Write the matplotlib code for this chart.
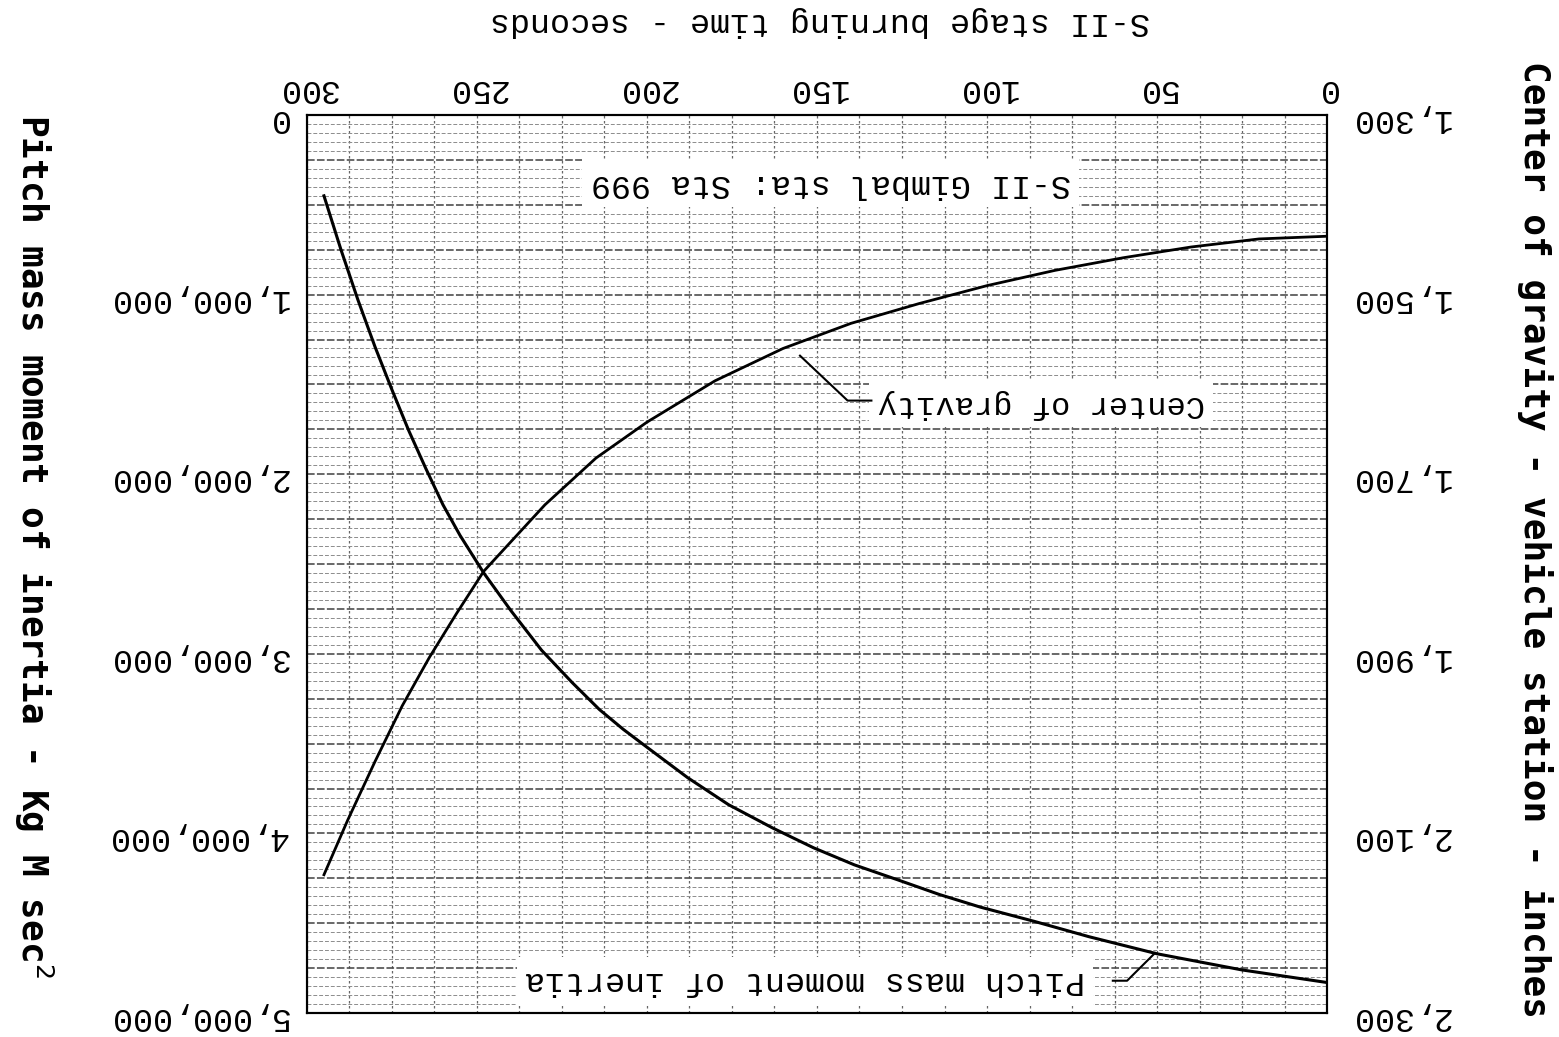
import numpy as np
import matplotlib
matplotlib.use("Agg")
import matplotlib.pyplot as plt

time_cg = [0, 20, 40, 60, 80, 100, 120, 140, 160, 180, 200, 215, 230, 248,
           256, 264, 272, 280, 288, 295]
cg_station = [1435, 1438, 1447, 1459, 1473, 1490, 1510, 1532, 1560, 1596, 1642, 1682, 1734, 1808,
              1855, 1904, 1958, 2020, 2085, 2146]

time_inertia = [0, 25, 50, 70, 86, 102, 114, 126, 139, 151, 163, 176, 188, 200, 207, 214,
                222, 231, 240, 248, 255, 260, 265, 270, 275, 280, 285, 290, 295]
pitch_inertia = [4.83e6, 4.76e6, 4.67e6, 4.575e6, 4.49e6, 4.41e6, 4.34e6, 4.26e6, 4.175e6,
                 4.08e6, 3.97e6, 3.84e6, 3.69e6, 3.52e6, 3.42e6, 3.31e6, 3.16e6, 2.98e6,
                 2.76e6, 2.55e6, 2.34e6, 2.17e6, 1.97e6, 1.76e6, 1.53e6, 1.29e6, 1.03e6,
                 0.75e6, 0.45e6]

time_ticks = [0, 50, 100, 150, 200, 250, 300]
inertia_ticks = [0, 1e6, 2e6, 3e6, 4e6, 5e6]
inertia_labels = ["0", "1,000,000", "2,000,000", "3,000,000", "4,000,000", "5,000,000"]
cg_ticks = [1300, 1500, 1700, 1900, 2100, 2300]
cg_labels = ["1,300", "1,500", "1,700", "1,900", "2,100", "2,300"]

# leader lines (time, inertia)
cg_leader_t = [155, 141, 134]
cg_leader_i = [1.34e6, 1.59e6, 1.59e6]
pitch_leader_t = [50.6, 58.8, 63]
pitch_leader_i = [4.666e6, 4.82e6, 4.82e6]

mono = "Liberation Mono"

fig = plt.figure(figsize=(15.59, 10.37), dpi=100)
ax = fig.add_axes([0.1969, 0.0231, 0.6543, 0.866])
ax.set_xlim(300, 0)
ax.set_ylim(5e6, 0)

# graph-paper grid
for t in np.arange(0, 300.1, 12.5):
    ax.axvline(t, color="0.4", lw=0.9, ls=(0, (2, 2)), zorder=1)
for v in np.arange(0, 5e6 + 1, 0.05e6):
    if abs(v / 0.25e6 - round(v / 0.25e6)) < 1e-6:
        ax.axhline(v, color="0.25", lw=1.1, ls=(0, (5, 1.5)), zorder=1)
    else:
        ax.axhline(v, color="0.55", lw=0.7, ls=(0, (4, 2)), zorder=1)

ax.plot(time_inertia, pitch_inertia, color="black", lw=2.2, zorder=4)

ax.xaxis.tick_top()
ax.set_xticks(time_ticks)
ax.set_xticklabels([str(t) for t in time_ticks], rotation=180, fontsize=24, family=mono)
ax.set_yticks(inertia_ticks)
ax.set_yticklabels(inertia_labels, rotation=180, fontsize=24, family=mono)
ax.tick_params(axis="both", length=0)
ax.tick_params(axis="x", pad=8)
ax.tick_params(axis="y", pad=14)

ax.xaxis.set_label_position("top")
ax.set_xlabel("S-II stage burning time - seconds", rotation=180, fontsize=24,
              family=mono, va="center", ha="center")
ax.xaxis.set_label_coords(0.503, 1.1036)
ax.set_ylabel("Pitch mass moment of inertia - Kg M sec$^2$", rotation=270, fontsize=26,
              family="DejaVu Sans Mono", fontweight="bold", va="center", ha="center")
ax.yaxis.set_label_coords(-0.268, 0.52)

ax2 = ax.twinx()
ax2.set_ylim(2300, 1300)
ax2.plot(time_cg, cg_station, color="black", lw=2.0, zorder=4)
ax2.set_yticks(cg_ticks)
ax2.set_yticklabels(cg_labels, rotation=180, fontsize=24, family=mono)
ax2.tick_params(axis="y", length=0, pad=16)
ax2.set_ylabel("Center of gravity - vehicle station - inches", rotation=270, fontsize=26,
               family="DejaVu Sans Mono", fontweight="bold", va="center", ha="center")
ax2.yaxis.set_label_coords(1.204, 0.527)

for a in (ax, ax2):
    for s in a.spines.values():
        s.set_linewidth(1.5)

box = dict(facecolor="white", edgecolor="none", pad=6)
ax.text(146, 0.38e6, "S-II Gimbal sta: Sta 999", rotation=180, fontsize=24, family=mono,
        ha="center", va="center", bbox=box, zorder=3)
ax.text(84, 1.61e6, "Center of gravity", rotation=180, fontsize=23, family=mono,
        ha="center", va="center", bbox=box, zorder=3)
ax.text(153.5, 4.82e6, "Pitch mass moment of inertia", rotation=180, fontsize=24, family=mono,
        ha="center", va="center", bbox=box, zorder=3)
ax.plot(cg_leader_t, cg_leader_i, color="black", lw=1.5, zorder=4)
ax.plot(pitch_leader_t, pitch_leader_i, color="black", lw=1.5, zorder=4)

fig.savefig("out.png", dpi=100)
